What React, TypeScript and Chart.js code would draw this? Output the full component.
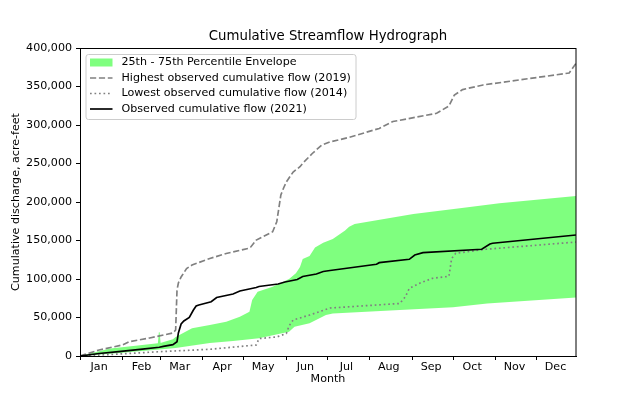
import React, { useEffect, useRef } from 'react';
import { Chart, registerables } from 'chart.js';

Chart.register(...registerables);

// ---- Data (day of year, cumulative acre-feet) ----
const MONTHS = ['Jan', 'Feb', 'Mar', 'Apr', 'May', 'Jun', 'Jul', 'Aug', 'Sep', 'Oct', 'Nov', 'Dec'];
const MONTH_START_DAYS = [0, 31, 59, 90, 120, 151, 181, 212, 243, 273, 304, 334];
const MONTH_LABEL_DAYS = [14, 45, 73, 104, 134, 165, 195, 226, 257, 287, 318, 348];
const Y_TICKS = [0, 50000, 100000, 150000, 200000, 250000, 300000, 350000, 400000];

const HIGH_DAYS = [0, 14, 31, 36, 51, 68, 70, 71, 72, 74, 78, 82, 95, 107, 123, 125, 129, 141, 144, 147, 149, 151, 156, 161, 163, 170, 177, 183, 197, 219, 229, 261, 270, 274, 280, 295, 358, 363];
const HIGH_FLOW = [0, 7800, 14300, 18600, 23400, 29900, 33800, 85700, 94800, 102600, 113600, 118200, 126600, 133100, 139600, 141600, 150600, 161400, 174400, 209100, 218200, 226000, 239000, 245800, 250300, 263000, 274000, 278000, 284000, 295500, 304500, 315200, 324700, 339000, 346000, 352000, 367500, 380000];

const LOW_DAYS = [0, 29, 58, 95, 129, 131, 144, 151, 153, 156, 161, 168, 183, 234, 238, 241, 249, 258, 270, 272, 275, 297, 363];
const LOW_FLOW = [0, 2600, 5600, 8700, 14300, 22700, 24700, 29200, 39000, 46800, 49400, 53200, 62300, 68200, 76600, 87700, 94800, 100900, 103500, 126600, 133400, 138600, 148000];

const OBS_DAYS = [0, 14, 30, 44, 58, 61, 68, 71, 72, 74, 76, 80, 83, 85, 87, 96, 100, 112, 117, 129, 131, 145, 150, 159, 163, 173, 178, 183, 217, 219, 241, 245, 251, 294, 300, 302, 363];
const OBS_FLOW = [0, 3200, 6000, 8500, 11300, 12500, 14800, 18600, 30000, 41600, 45500, 50000, 59700, 64900, 66200, 70500, 76000, 80500, 84400, 89000, 90300, 93500, 96100, 99400, 103200, 106500, 109700, 111000, 119100, 121200, 125600, 131200, 134200, 138600, 145500, 146400, 157100];

const P75_DAYS = [0, 22, 34, 57, 57.7, 58.3, 59, 60, 68, 70, 82, 95, 107, 117, 124, 126, 130, 141, 153, 158, 161, 163, 168, 172, 178, 185, 194, 197, 201, 244, 278, 307, 363];
const P75_FLOW = [0, 9700, 12100, 16500, 31000, 31000, 17000, 17500, 21700, 24700, 36000, 40300, 44500, 51000, 57500, 72700, 83500, 90000, 100000, 107400, 115600, 126000, 129900, 140900, 147100, 152000, 163000, 167900, 171400, 184400, 191800, 198300, 207800];

const P25_DAYS = [0, 29, 58, 70, 80, 95, 112, 131, 153, 157, 168, 180, 185, 234, 273, 298, 363];
const P25_FLOW = [0, 3900, 8400, 10500, 13000, 16900, 19500, 23000, 31600, 38000, 42400, 53200, 55200, 59700, 63200, 68200, 76000];

const TITLE = 'Cumulative Streamflow Hydrograph';
const LEGEND_LABELS = [
  '25th - 75th Percentile Envelope',
  'Highest observed cumulative flow (2019)',
  'Lowest observed cumulative flow (2014)',
  'Observed cumulative flow (2021)',
];

const FONT = '"DejaVu Sans", sans-serif';
const GREEN = 'rgba(0,255,0,0.5)';
const GRAY = '#808080';
const DASH = [6.2, 2.7];
const DOT = [1.7, 2.8];

const pts = (xs: number[], ys: number[]) => xs.map((x, i) => ({ x, y: ys[i] }));

const decorPlugin = {
  id: 'decor',
  afterDraw(chart: any) {
    const { ctx, chartArea } = chart;
    const { left, right, top, bottom } = chartArea;
    ctx.save();
    // frame
    ctx.strokeStyle = '#000';
    ctx.lineWidth = 1;
    ctx.setLineDash([]);
    ctx.strokeRect(Math.round(left) + 0.5, Math.round(top) + 0.5, Math.round(right - left) - 0.5, Math.round(bottom - top));
    // title
    ctx.fillStyle = '#000';
    ctx.font = `13.3px ${FONT}`;
    ctx.textAlign = 'center';
    ctx.textBaseline = 'middle';
    ctx.fillText(TITLE, (left + right) / 2, 37);
    // legend
    const lx = 86, ly = 54.5, lw = 270, lh = 65;
    ctx.fillStyle = 'rgba(255,255,255,0.8)';
    ctx.strokeStyle = '#cccccc';
    ctx.lineWidth = 1;
    ctx.beginPath();
    const r = 2.5;
    ctx.moveTo(lx + r, ly);
    ctx.lineTo(lx + lw - r, ly);
    ctx.quadraticCurveTo(lx + lw, ly, lx + lw, ly + r);
    ctx.lineTo(lx + lw, ly + lh - r);
    ctx.quadraticCurveTo(lx + lw, ly + lh, lx + lw - r, ly + lh);
    ctx.lineTo(lx + r, ly + lh);
    ctx.quadraticCurveTo(lx, ly + lh, lx, ly + lh - r);
    ctx.lineTo(lx, ly + r);
    ctx.quadraticCurveTo(lx, ly, lx + r, ly);
    ctx.closePath();
    ctx.fill();
    ctx.stroke();

    const rows = [62.5, 78, 93.5, 109];
    ctx.fillStyle = GREEN;
    ctx.fillRect(90, rows[0] - 4, 22.5, 8);
    const line = (y: number, color: string, dash: number[]) => {
      ctx.strokeStyle = color;
      ctx.lineWidth = 1.67;
      ctx.setLineDash(dash);
      ctx.beginPath();
      ctx.moveTo(90, y);
      ctx.lineTo(112.5, y);
      ctx.stroke();
    };
    line(rows[1], GRAY, DASH);
    line(rows[2], GRAY, DOT);
    line(rows[3], '#000', []);
    ctx.setLineDash([]);
    ctx.fillStyle = '#000';
    ctx.font = `11.1px ${FONT}`;
    ctx.textAlign = 'left';
    ctx.textBaseline = 'middle';
    LEGEND_LABELS.forEach((t, i) => ctx.fillText(t, 121.5, rows[i]));
    ctx.restore();
  },
};

export default function App() {
  const ref = useRef<HTMLCanvasElement | null>(null);
  useEffect(() => {
    if (!ref.current) return;
    const allTicks = [...MONTH_START_DAYS, ...MONTH_LABEL_DAYS].sort((a, b) => a - b);
    const chart = new Chart(ref.current, {
      type: 'line',
      data: {
        datasets: [
          {
            label: '75th',
            data: pts(P75_DAYS, P75_FLOW),
            borderWidth: 0,
            borderColor: 'rgba(0,0,0,0)',
            backgroundColor: GREEN,
            pointRadius: 0,
            fill: '+1',
            tension: 0,
            order: 3,
          },
          {
            label: '25th',
            data: pts(P25_DAYS, P25_FLOW),
            borderWidth: 0,
            borderColor: 'rgba(0,0,0,0)',
            backgroundColor: GREEN,
            pointRadius: 0,
            fill: false,
            tension: 0,
            order: 3,
          },
          {
            label: LEGEND_LABELS[1],
            data: pts(HIGH_DAYS, HIGH_FLOW),
            borderColor: GRAY,
            borderWidth: 1.67,
            borderDash: DASH,
            pointRadius: 0,
            fill: false,
            tension: 0,
            order: 2,
          },
          {
            label: LEGEND_LABELS[2],
            data: pts(LOW_DAYS, LOW_FLOW),
            borderColor: GRAY,
            borderWidth: 1.67,
            borderDash: DOT,
            pointRadius: 0,
            fill: false,
            tension: 0,
            order: 2,
          },
          {
            label: LEGEND_LABELS[3],
            data: pts(OBS_DAYS, OBS_FLOW),
            borderColor: '#000',
            borderWidth: 1.67,
            pointRadius: 0,
            fill: false,
            tension: 0,
            order: 1,
          },
        ],
      },
      options: {
        animation: false,
        responsive: false,
        devicePixelRatio: 1,
        layout: { padding: { top: 48, right: 64, left: 0, bottom: 0 } },
        plugins: {
          legend: { display: false },
          tooltip: { enabled: false },
          title: { display: false },
        },
        scales: {
          x: {
            type: 'linear',
            min: 0,
            max: 363,
            afterFit: (s: any) => { s.height = 44; },
            afterBuildTicks: (s: any) => { s.ticks = allTicks.map((v) => ({ value: v })); },
            grid: {
              drawOnChartArea: false,
              drawTicks: true,
              tickLength: 4,
              tickWidth: 1,
              tickColor: (c: any) => (MONTH_START_DAYS.includes(c.tick?.value) ? '#000' : 'rgba(0,0,0,0)'),
            },
            border: { display: true, color: '#000', width: 1 },
            ticks: {
              autoSkip: false,
              maxRotation: 0,
              padding: 0,
              color: '#000',
              font: { family: FONT, size: 11.1 },
              callback: (v: any) => {
                const i = MONTH_LABEL_DAYS.indexOf(Number(v));
                return i >= 0 ? MONTHS[i] : '';
              },
            },
            title: {
              display: true,
              text: 'Month',
              color: '#000',
              font: { family: FONT, size: 11.1 },
              padding: { top: 0, bottom: 14.5 },
            },
          },
          y: {
            type: 'linear',
            min: 0,
            max: 400000,
            afterFit: (s: any) => { s.width = 80; },
            afterBuildTicks: (s: any) => { s.ticks = Y_TICKS.map((v) => ({ value: v })); },
            grid: { drawOnChartArea: false, drawTicks: true, tickLength: 4, tickColor: '#000', tickWidth: 1 },
            border: { display: true, color: '#000', width: 1 },
            ticks: {
              padding: 4,
              color: '#000',
              font: { family: FONT, size: 11.1 },
              callback: (v: any) => Number(v).toLocaleString('en-US'),
            },
            title: {
              display: true,
              text: 'Cumulative discharge, acre-feet',
              color: '#000',
              font: { family: FONT, size: 11.1 },
              padding: { top: 9, bottom: 0 },
            },
          },
        },
      },
      plugins: [decorPlugin],
    } as any);
    return () => chart.destroy();
  }, []);
  return (
    <div style={{ position: 'fixed', left: 0, top: 0, width: 640, height: 400, background: '#fff' }}>
      <canvas ref={ref} width={640} height={400} style={{ width: 640, height: 400 }} />
    </div>
  );
}
